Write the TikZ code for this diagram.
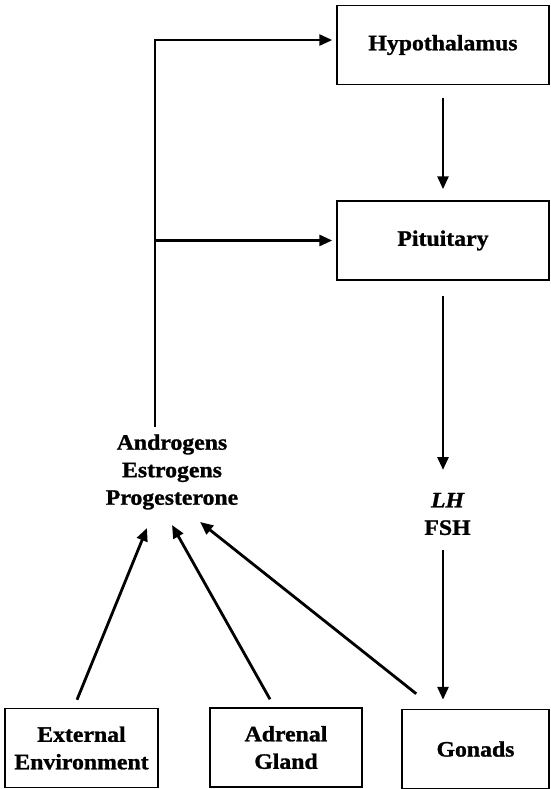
\documentclass[tikz,border=0pt]{standalone}
\usepackage{fontspec}
\setmainfont{Liberation Serif}[FakeStretch=1.08, BoldFeatures={FakeBold=1.2}, BoldItalicFeatures={FakeBold=1.2}]
\usetikzlibrary{arrows.meta}
\tikzset{
  box/.style={draw, line width=1.5pt, minimum width=#1, minimum height=79pt, inner sep=0pt,
    font=\fontsize{22}{27.5}\selectfont\bfseries, align=center},
  hormtext/.style={inner sep=3pt, font=\fontsize{22}{27.5}\selectfont\bfseries, align=center},
  feed/.style={-{Triangle[length=13pt,width=11pt]}, line width=2.8pt}
}
\begin{document}
\begin{tikzpicture}[x=1pt,y=1pt]
  \useasboundingbox (0,0) rectangle (550,-789);
  \node[box=212pt] (hyp) at (443,-45) {Hypothalamus};
  \node[box=212pt] (pit) at (443,-240.5) {Pituitary};
  \node[hormtext] (horm) at (172,-472) {Androgens\\Estrogens\\Progesterone};
  \node[hormtext] (lhfsh) at (447.5,-514) {\itshape LH\\FSH};
  \node[box=153pt] (ext) at (81.5,-748) {External\\Environment};
  \node[box=152pt] (adr) at (286,-747.5) {Adrenal\\Gland};
  \node[box=147pt] (gon) at (475.5,-749) {Gonads};
  \coordinate (fb) at (155,-427);
  % main axis
  \draw[feed] ([yshift=-12.5pt]hyp.south) -- ([yshift=11pt]pit.north);
  \draw[feed] ([yshift=-15pt]pit.south) -- ([xshift=-4.5pt,yshift=44pt]lhfsh.center);
  \draw[feed] ([xshift=-4.5pt,yshift=-36pt]lhfsh.center) -- ([xshift=-32.5pt,yshift=9pt]gon.north);
  % feedback
  \draw[feed] (fb) |- ([xshift=-4pt,yshift=5pt]hyp.west);
  \draw[feed] (fb |- pit.west) -- ([xshift=-4pt]pit.west);
  % sources
  \draw[feed] ([xshift=-4.5pt,yshift=8pt]ext.north) -- ([shift={(-25pt,-56pt)}]horm.center);
  \draw[feed] ([xshift=-16pt,yshift=8pt]adr.north) -- ([shift={(0pt,-53pt)}]horm.center);
  \draw[feed] ([shift={(15pt,15pt)}]gon.north west) -- ([shift={(28pt,-50pt)}]horm.center);
\end{tikzpicture}
\end{document}
